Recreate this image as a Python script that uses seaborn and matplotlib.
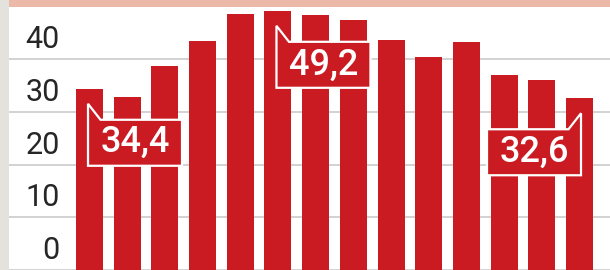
import matplotlib
matplotlib.use("Agg")
import matplotlib.pyplot as plt
import matplotlib.transforms as mtransforms
from matplotlib.patches import Polygon, Rectangle
import seaborn as sns
import pandas as pd

# ---- data -------------------------------------------------------------
categories = [str(y) for y in range(2009, 2023)]
values = [34.4, 32.8, 38.7, 43.4, 48.6, 49.2, 48.4, 47.5, 43.6, 40.5, 43.3, 37.1, 36.0, 32.6]
tick_values = [0, 10, 20, 30, 40]
labeled_bars = [0, 5, 13]           # first, maximum, last
label_sides = ["left", "left", "right"]

# ---- style ------------------------------------------------------------
RED = "#CA1B23"
PINK = "#ECB9A8"
STRIP = "#E4E2DC"
GRID = "#D2D2D2"

sns.set_theme(style="white")
plt.rcParams["font.family"] = ["Roboto", "DejaVu Sans"]

W, H = 610, 270
fig = plt.figure(figsize=(W / 100, H / 100), dpi=100, facecolor=STRIP)
ax = fig.add_axes([9 / W, 0, (W - 9) / W, 1])
ax.set_facecolor("white")

df = pd.DataFrame({"cat": categories, "val": values})
sns.barplot(data=df, x="cat", y="val", order=categories, color=RED,
            saturation=1, width=0.716, linewidth=0, ax=ax, zorder=2)

ax.set_xlim(-2.136, 13.809)
ax.set_ylim(0.62, 51.25)
ax.set_yticks(tick_values)
ax.grid(axis="y", color=GRID, linewidth=1.4)
ax.grid(axis="x", visible=False)
ax.set_axisbelow(True)
ax.tick_params(left=False, bottom=False, labelleft=False, labelbottom=False)
ax.set_xlabel("")
ax.set_ylabel("")
for s in ax.spines.values():
    s.set_visible(False)

# tick labels sitting above their grid lines
lab_tr = mtransforms.offset_copy(ax.get_yaxis_transform(), fig=fig, y=19.5, units="dots")
for t in tick_values:
    ax.text(51 / (W - 9), t, str(t), transform=lab_tr, ha="right", va="center",
            fontsize=22, color="#262626", fontweight="normal")

# pink band on top
fig.patches.append(Rectangle((9 / W, (H - 7) / H), (W - 9) / W, 7 / H,
                             transform=fig.transFigure, facecolor=PINK,
                             edgecolor="none", zorder=10))

# callouts (offsets in pixels relative to bar top)
def callout(i, side):
    v = values[i]
    tr = fig.dpi_scale_trans + mtransforms.ScaledTranslation(i, v, ax.transData)
    sgn = 1 if side == "left" else -1
    bw = 94
    px = [(-1.5, -15), (11, -31), (bw - 1.5, -31), (bw - 1.5, -77), (-1.5, -77)]
    verts = [(sgn * x / 100, y / 100) for x, y in px]
    ax.add_patch(Polygon(verts, closed=True, facecolor=RED, edgecolor="white",
                         linewidth=1.6, transform=tr, zorder=5))
    cx = sgn * (bw / 2 - 1.5) / 100
    ax.text(cx, -54 / 100, f"{v:.1f}".replace(".", ","), transform=tr,
            ha="center", va="center", color="white", fontsize=26,
            fontweight="medium", zorder=6)

for i, side in zip(labeled_bars, label_sides):
    callout(i, side)

fig.savefig("out.png", dpi=100, facecolor=STRIP)
